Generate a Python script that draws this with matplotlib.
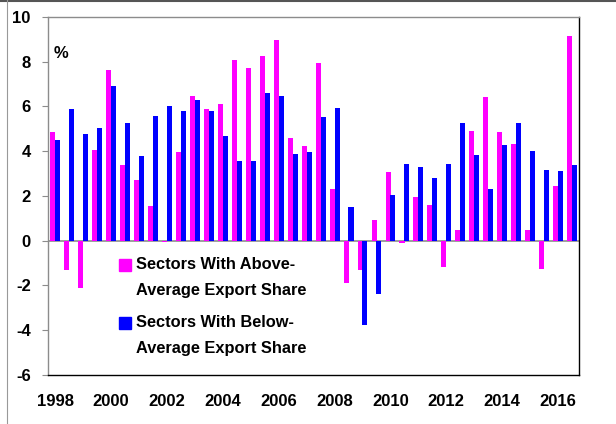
import numpy as np
import matplotlib
matplotlib.use('Agg')
import matplotlib.pyplot as plt
from matplotlib.patches import Rectangle
from matplotlib.lines import Line2D

# Half-yearly growth, 1998H1 .. 2016H2
periods = [f'{y}H{h}' for y in range(1998, 2017) for h in (1, 2)]
above_avg = [4.85, -1.33, -2.12, 4.03, 7.61, 3.36, 2.69, 1.57, -0.07, 3.97,
             6.48, 5.87, 6.09, 8.07, 7.73, 8.25, 8.96, 4.58, 4.24, 7.96,
             2.30, -1.90, -1.33, 0.90, 3.07, -0.10, 1.97, 1.58, -1.18, 0.49,
             4.88, 6.40, 4.85, 4.33, 0.49, -1.25, 2.45, 9.13]
below_avg = [4.50, 5.87, 4.75, 5.04, 6.91, 5.27, 3.78, 5.58, 6.04, 5.79,
             6.30, 5.79, 4.66, 3.54, 3.58, 6.58, 6.46, 3.87, 3.94, 5.54,
             5.94, 1.52, -3.76, -2.39, 2.03, 3.43, 3.30, 2.78, 3.43, 5.27,
             3.82, 2.33, 4.27, 5.27, 3.99, 3.16, 3.13, 3.37]
year_labels = [str(y) for y in range(1998, 2017, 2)]
legend_lines = [['Sectors With Above-', 'Average Export Share'],
                ['Sectors With Below-', 'Average Export Share']]
colors = ['#FF00FF', '#0000FF']

plt.rcParams['font.family'] = ['Liberation Sans', 'DejaVu Sans']
fs = 12
fs_leg = 11.8

fig = plt.figure(figsize=(6.16, 4.24), dpi=100)
ax = fig.add_axes([0.078, 0.116, 0.862, 0.844])

x = np.arange(len(periods))
w = 0.36
ax.bar(x - 0.17, above_avg, width=w, color=colors[0], zorder=2)
ax.bar(x + 0.18, below_avg, width=w, color=colors[1], zorder=3)
ax.axhline(0, color='#8c8c8c', lw=1.2, zorder=1)

ax.set_xlim(-0.5, len(periods) - 0.5)
ax.set_ylim(-6, 10)
ax.set_yticks(range(-6, 11, 2))
ax.set_yticklabels([str(v) for v in range(-6, 11, 2)], fontsize=fs, fontweight='bold')
ax.set_xticks(x[::4])
ax.set_xticklabels(year_labels, fontsize=fs, fontweight='bold')
ax.tick_params(axis='x', length=0, pad=14)
ax.tick_params(axis='y', direction='out', length=4.5, width=0.8, color='#8c8c8c', pad=8)

for side in ['left', 'top']:
    ax.spines[side].set_color('#8c8c8c')
for side in ['right', 'bottom']:
    ax.spines[side].set_color('black')
for s in ax.spines.values():
    s.set_linewidth(1.0)

ax.text(0.01, 0.885, '%', transform=ax.transAxes, fontsize=fs, fontweight='bold')

# legend drawn by hand so the swatch sits on the first line
for i, (lines, c) in enumerate(zip(legend_lines, colors)):
    y0 = 0.307 - i * 0.162
    ax.add_patch(Rectangle((0.134, y0 - 0.017), 0.0226, 0.034, transform=ax.transAxes,
                           color=c, clip_on=False))
    for j, t in enumerate(lines):
        ax.text(0.166, y0 - j * 0.072, t, transform=ax.transAxes, fontsize=fs_leg,
                fontweight='bold', va='center')

# outer frame lines of the original image
fig.add_artist(Line2D([0, 1], [0.997, 0.997], color='#555555', lw=1.5))
fig.add_artist(Line2D([0.012, 0.012], [0, 1], color='#999999', lw=0.8))

fig.savefig('out.png', dpi=100)
